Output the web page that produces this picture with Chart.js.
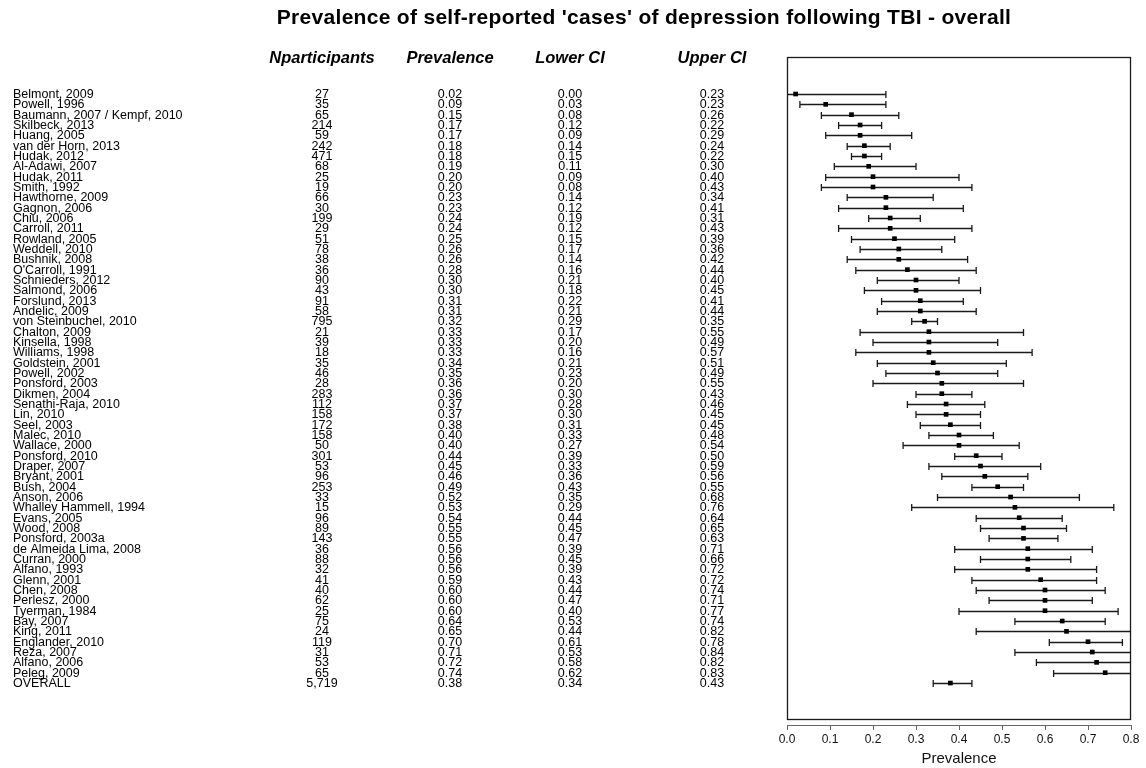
<!DOCTYPE html>
<html>
<head>
<meta charset="utf-8">
<script src="https://cdn.jsdelivr.net/npm/chart.js@4.4.1/dist/chart.umd.min.js"></script>
<style>
  html, body { margin: 0; padding: 0; background: #fff; }
  #wrap { width: 1146px; height: 768px; }
</style>
</head>
<body>
<div id="wrap"><canvas id="c" width="1146" height="768"></canvas></div>
<script>
const studies = [
  "Belmont, 2009", "Powell, 1996", "Baumann, 2007 / Kempf, 2010", "Skilbeck, 2013", "Huang, 2005",
  "van der Horn, 2013", "Hudak, 2012", "Al-Adawi, 2007", "Hudak, 2011", "Smith, 1992",
  "Hawthorne, 2009", "Gagnon, 2006", "Chiu, 2006", "Carroll, 2011", "Rowland, 2005",
  "Weddell, 2010", "Bushnik, 2008", "O'Carroll, 1991", "Schnieders, 2012", "Salmond, 2006",
  "Forslund, 2013", "Andelic, 2009", "von Steinbuchel, 2010", "Chalton, 2009", "Kinsella, 1998",
  "Williams, 1998", "Goldstein, 2001", "Powell, 2002", "Ponsford, 2003", "Dikmen, 2004",
  "Senathi-Raja, 2010", "Lin, 2010", "Seel, 2003", "Malec, 2010", "Wallace, 2000",
  "Ponsford, 2010", "Draper, 2007", "Bryant, 2001", "Bush, 2004", "Anson, 2006",
  "Whalley Hammell, 1994", "Evans, 2005", "Wood, 2008", "Ponsford, 2003a", "de Almeida Lima, 2008",
  "Curran, 2000", "Alfano, 1993", "Glenn, 2001", "Chen, 2008", "Perlesz, 2000",
  "Tyerman, 1984", "Bay, 2007", "King, 2011", "Englander, 2010", "Reza, 2007",
  "Alfano, 2006", "Peleg, 2009", "OVERALL"
];
const nParticipants = [
  27, 35, 65, 214, 59, 242, 471, 68, 25, 19,
  66, 30, 199, 29, 51, 78, 38, 36, 90, 43,
  91, 58, 795, 21, 39, 18, 35, 46, 28, 283,
  112, 158, 172, 158, 50, 301, 53, 96, 253, 33,
  15, 96, 89, 143, 36, 88, 32, 41, 40, 62,
  25, 75, 24, 119, 31, 53, 65, 5719
];
const prevalence = [
  0.02, 0.09, 0.15, 0.17, 0.17, 0.18, 0.18, 0.19, 0.20, 0.20,
  0.23, 0.23, 0.24, 0.24, 0.25, 0.26, 0.26, 0.28, 0.30, 0.30,
  0.31, 0.31, 0.32, 0.33, 0.33, 0.33, 0.34, 0.35, 0.36, 0.36,
  0.37, 0.37, 0.38, 0.40, 0.40, 0.44, 0.45, 0.46, 0.49, 0.52,
  0.53, 0.54, 0.55, 0.55, 0.56, 0.56, 0.56, 0.59, 0.60, 0.60,
  0.60, 0.64, 0.65, 0.70, 0.71, 0.72, 0.74, 0.38
];
const lowerCI = [
  0.00, 0.03, 0.08, 0.12, 0.09, 0.14, 0.15, 0.11, 0.09, 0.08,
  0.14, 0.12, 0.19, 0.12, 0.15, 0.17, 0.14, 0.16, 0.21, 0.18,
  0.22, 0.21, 0.29, 0.17, 0.20, 0.16, 0.21, 0.23, 0.20, 0.30,
  0.28, 0.30, 0.31, 0.33, 0.27, 0.39, 0.33, 0.36, 0.43, 0.35,
  0.29, 0.44, 0.45, 0.47, 0.39, 0.45, 0.39, 0.43, 0.44, 0.47,
  0.40, 0.53, 0.44, 0.61, 0.53, 0.58, 0.62, 0.34
];
const upperCI = [
  0.23, 0.23, 0.26, 0.22, 0.29, 0.24, 0.22, 0.30, 0.40, 0.43,
  0.34, 0.41, 0.31, 0.43, 0.39, 0.36, 0.42, 0.44, 0.40, 0.45,
  0.41, 0.44, 0.35, 0.55, 0.49, 0.57, 0.51, 0.49, 0.55, 0.43,
  0.46, 0.45, 0.45, 0.48, 0.54, 0.50, 0.59, 0.56, 0.55, 0.68,
  0.76, 0.64, 0.65, 0.63, 0.71, 0.66, 0.72, 0.72, 0.74, 0.71,
  0.77, 0.74, 0.82, 0.78, 0.84, 0.82, 0.83, 0.43
];
const columnHeaders = ["Nparticipants", "Prevalence", "Lower CI", "Upper CI"];
const xTickValues = [0.0, 0.1, 0.2, 0.3, 0.4, 0.5, 0.6, 0.7, 0.8];
const chartTitle = "Prevalence of self-reported 'cases' of depression following TBI - overall";
const xAxisTitle = "Prevalence";

const FONT = "'Liberation Sans', Arial, Helvetica, sans-serif";
const colX = [322, 450, 570, 712];
const nameX = 13;

const forestPlugin = {
  id: 'forest',
  beforeDatasetsDraw(chart) {
    const ctx = chart.ctx, xs = chart.scales.x, ys = chart.scales.y, a = chart.chartArea;
    ctx.save();
    ctx.strokeStyle = '#1a1a1a';
    ctx.lineWidth = 1.3;
    ctx.strokeRect(a.left + 0.5, a.top + 0.5, a.right - a.left - 1, (a.bottom - 6) - a.top);
    ctx.restore();
    ctx.save();
    ctx.beginPath();
    ctx.rect(a.left, a.top, a.right - a.left, a.bottom - a.top);
    ctx.clip();
    ctx.strokeStyle = '#1a1a1a';
    ctx.lineWidth = 1.3;
    for (let i = 0; i < prevalence.length; i++) {
      const y = Math.round(ys.getPixelForValue(i)) + 0.5;
      const x1 = xs.getPixelForValue(lowerCI[i]);
      const x2 = xs.getPixelForValue(upperCI[i]);
      ctx.beginPath();
      ctx.moveTo(x1, y); ctx.lineTo(x2, y);
      ctx.moveTo(x1, y - 3.5); ctx.lineTo(x1, y + 3.5);
      ctx.moveTo(x2, y - 3.5); ctx.lineTo(x2, y + 3.5);
      ctx.stroke();
    }
    ctx.restore();
  },
  afterDraw(chart) {
    const ctx = chart.ctx, ys = chart.scales.y;
    ctx.save();
    ctx.fillStyle = '#000';
    ctx.textBaseline = 'middle';
    ctx.textAlign = 'center';
    ctx.font = "bold 21px " + FONT;
    if ('letterSpacing' in ctx) ctx.letterSpacing = '0.3px';
    ctx.fillText(chartTitle, 644, 18);
    if ('letterSpacing' in ctx) ctx.letterSpacing = '0px';
    ctx.font = "italic bold 16.5px " + FONT;
    columnHeaders.forEach((h, k) => ctx.fillText(h, colX[k], 58));
    ctx.font = "12.5px " + FONT;
    for (let i = 0; i < studies.length; i++) {
      const y = ys.getPixelForValue(i) + 0.5;
      ctx.textAlign = 'left';
      ctx.fillText(studies[i], nameX, y);
      ctx.textAlign = 'center';
      ctx.fillText(nParticipants[i].toLocaleString('en-US'), colX[0], y);
      ctx.fillText(prevalence[i].toFixed(2), colX[1], y);
      ctx.fillText(lowerCI[i].toFixed(2), colX[2], y);
      ctx.fillText(upperCI[i].toFixed(2), colX[3], y);
    }
    ctx.restore();
  }
};

new Chart(document.getElementById('c'), {
  type: 'scatter',
  data: {
    datasets: [{
      data: prevalence.map((p, i) => ({ x: p, y: i })),
      pointStyle: 'rect',
      pointRadius: 3.3,
      pointHoverRadius: 3.3,
      backgroundColor: '#000',
      borderColor: '#000',
      borderWidth: 0
    }]
  },
  options: {
    responsive: false,
    animation: false,
    devicePixelRatio: 1,
    layout: { padding: { left: 787, right: 15, top: 57, bottom: 0 } },
    plugins: { legend: { display: false }, tooltip: { enabled: false }, title: { display: false } },
    scales: {
      x: {
        type: 'linear', min: 0, max: 0.8,
        afterFit(s) { s.height = 43; },
        afterBuildTicks(s) { s.ticks = xTickValues.map(v => ({ value: v })); },
        ticks: { callback: v => Number(v).toFixed(1), font: { size: 12, family: FONT }, color: '#111', padding: 2, maxRotation: 0, autoSkip: false },
        grid: { drawOnChartArea: false, drawTicks: true, tickLength: 5, color: '#666' },
        border: { display: true, color: '#666' },
        title: { display: true, text: xAxisTitle, font: { size: 15, family: FONT }, color: '#111', padding: { top: 2, bottom: 0 } }
      },
      y: { type: 'linear', display: false, min: -3.58, max: 61.06, reverse: true }
    }
  },
  plugins: [forestPlugin]
});
</script>
</body>
</html>
